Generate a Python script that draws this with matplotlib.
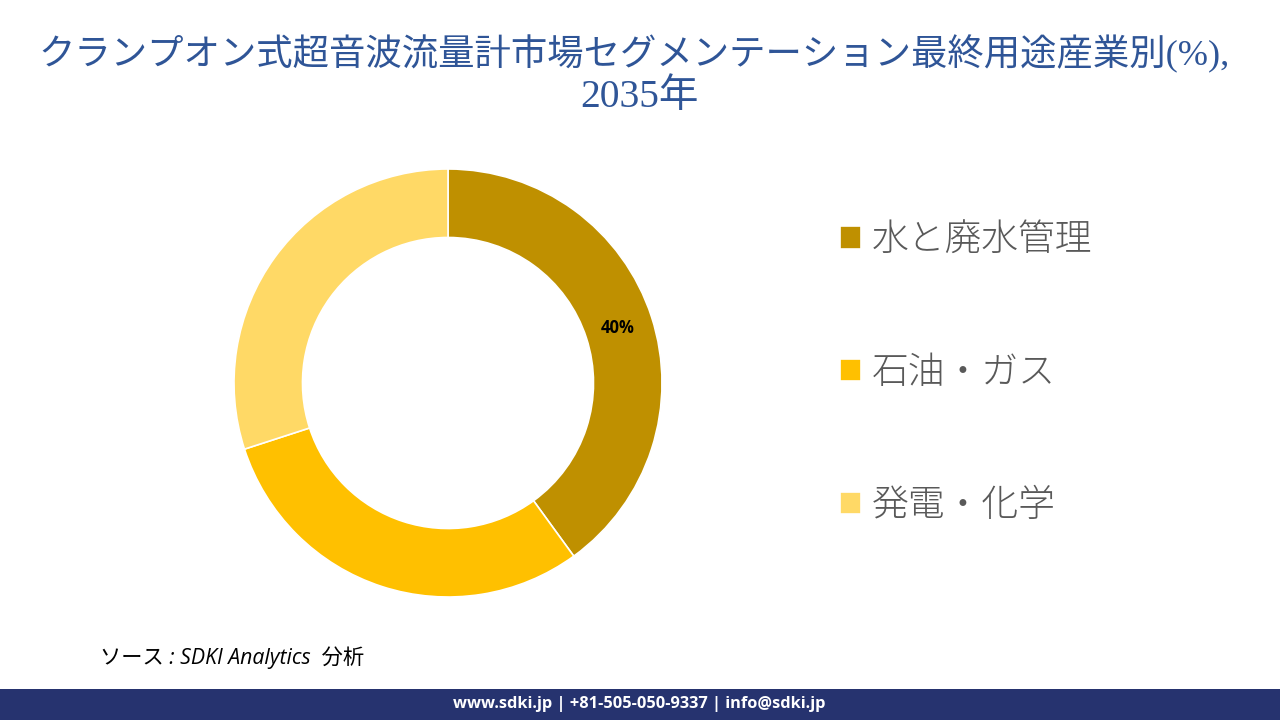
import matplotlib
matplotlib.use("Agg")
import matplotlib.pyplot as plt
from matplotlib.patches import Rectangle

categories = ["水と廃水管理", "石油・ガス", "発電・化学"]
shares = [40, 30, 30]
slice_colors = ["#BF9000", "#FFC000", "#FFD966"]
title_line1 = "クランプオン式超音波流量計市場セグメンテーション最終用途産業別(%),"
title_line2 = "2035年"
source_text = "ソース : SDKI Analytics  分析"
footer_text = "www.sdki.jp | +81-505-050-9337 | info@sdki.jp"

W, H = 1280, 720
serif = ["Liberation Serif", "Noto Sans CJK JP"]
sans = ["Open Sans", "Noto Sans CJK JP"]

fig = plt.figure(figsize=(W / 100, H / 100), dpi=100, facecolor="white")

# donut, placed in pixels: centre (448, 383), radius 213
cx, cy, r = 448, 383, 214
ax = fig.add_axes([(cx - r) / W, 1 - (cy + r) / H, 2 * r / W, 2 * r / H])
wedges, _, autotexts = ax.pie(
    shares,
    colors=slice_colors,
    startangle=90,
    counterclock=False,
    radius=1.0,
    wedgeprops={"width": 0.32, "edgecolor": "white", "linewidth": 1.2},
    autopct=lambda p: f"{p:.0f}%" if p > 35 else "",
    pctdistance=0.835,
    textprops={"fontsize": 12, "fontweight": "bold", "color": "black", "family": sans},
)
ax.set_xlim(-1, 1)
ax.set_ylim(-1, 1)

leg = fig.legend(
    wedges,
    categories,
    loc="upper left",
    bbox_to_anchor=(833 / W, 1 - 215 / H),
    frameon=False,
    prop={"family": sans, "size": 26.5, "weight": "light"},
    labelcolor="#595959",
    handlelength=0.56,
    handleheight=0.56,
    handletextpad=0.3,
    labelspacing=2.6,
    borderpad=0.2,
    borderaxespad=0,
)

fig.text(634 / W, 1 - 54 / H, title_line1, ha="center", va="center",
         fontsize=26.2, color="#2F5597", family=serif)
fig.text(639 / W, 1 - 97 / H, title_line2, ha="center", va="center",
         fontsize=28.5, color="#2F5597", family=serif)

fig.text(100 / W, 1 - 658 / H, source_text, ha="left", va="center",
         fontsize=15.3, style="italic", color="black", family=sans)

fig.add_artist(Rectangle((0, 0), 1, 31 / H, transform=fig.transFigure,
                         facecolor="#26336F", edgecolor="none"))
fig.text(639 / W, 1 - 704 / H, footer_text, ha="center", va="center",
         fontsize=11.8, fontweight="bold", color="white", family=sans)

fig.savefig("out.png", dpi=100)
